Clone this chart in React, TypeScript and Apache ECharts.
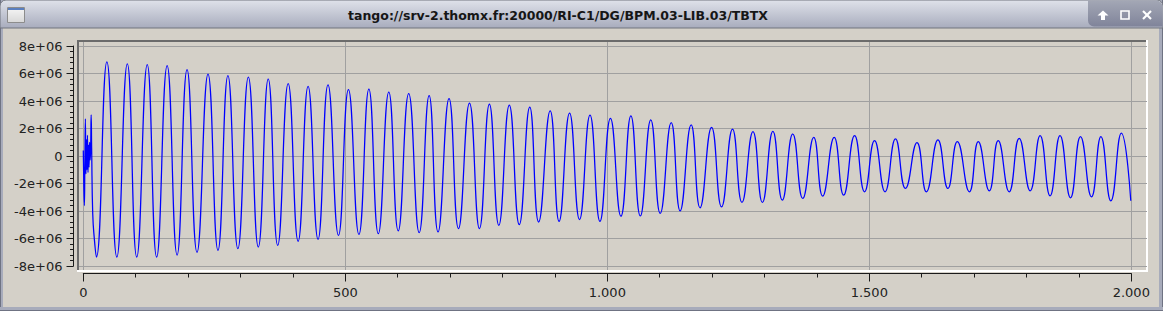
import React, { useEffect, useRef } from "react";
import * as echarts from "echarts";

const TITLE = "tango://srv-2.thomx.fr:20000/RI-C1/DG/BPM.03-LIB.03/TBTX";
const SCALE = 1e6;

// X axis (sample index)
const xMin = 0;
const xMax = 2000;
const xStep = 500;
// Y axis
const yMin = -8e6;
const yMax = 8e6;
const yStep = 2e6;

// initial transient (sample index, value in 1e6)
const transientSamples = [0, 1, 2, 3, 4, 5, 6, 7, 8, 9, 10, 11, 12, 13, 14, 15, 16, 18, 21];
const transientValues = [0.4, -2.2, -3.6, -0.5, 2.7, -1.3, 1.2, -1.0, 1.5, -1.2, 0.8, -0.8, 1.0, -0.3, 0.5, 3.0, 0.4, -4.2, -6.0];

// oscillation maxima
const peakSamples = [
  45, 84, 122, 160, 198, 238, 276, 315, 353, 391, 429, 467, 506, 545, 583, 621, 660,
  698, 737, 775, 813, 852, 891, 928, 967, 1006, 1045, 1083, 1122, 1160, 1199, 1239,
  1278, 1316, 1354, 1394, 1433, 1472, 1510, 1550, 1591, 1631, 1668, 1708, 1746, 1786,
  1826, 1864, 1903, 1942, 1981,
];
const peakValues = [
  6.84, 6.7, 6.64, 6.57, 6.28, 5.96, 5.84, 5.74, 5.6, 5.26, 5.06, 5.18, 4.82, 4.87, 4.65, 4.53, 4.4,
  4.18, 3.85, 3.77, 3.7, 3.55, 3.28, 3.12, 2.97, 2.73, 2.92, 2.63, 2.43, 2.26, 2.09, 1.95,
  1.77, 1.8, 1.6, 1.36, 1.36, 1.48, 1.12, 1.24, 0.97, 1.17, 1.04, 1.04, 1.12, 1.29,
  1.48, 1.48, 1.41, 1.41, 1.66,
];

// oscillation minima
const troughSamples = [
  25, 64, 102, 140, 179, 217, 257, 295, 334, 371, 410, 448, 487, 526, 563, 601, 641,
  677, 716, 756, 793, 832, 869, 908, 947, 986, 1026, 1063, 1101, 1139, 1177, 1218,
  1257, 1296, 1334, 1373, 1411, 1451, 1491, 1530, 1569, 1609, 1650, 1691, 1729, 1767,
  1807, 1845, 1884, 1924, 1961,
];
const troughValues = [
  -7.35, -7.35, -7.35, -7.35, -7.2, -7.0, -6.86, -6.74, -6.62, -6.5, -6.2, -6.06, -5.77, -5.7, -5.65, -5.45, -5.57,
  -5.52, -5.28, -5.28, -5.04, -4.99, -4.8, -4.75, -4.62, -4.75, -4.38, -4.36, -4.18, -3.99, -3.77, -3.7,
  -3.38, -3.38, -3.21, -3.09, -2.92, -2.85, -2.6, -2.6, -2.36, -2.6, -2.36, -2.6, -2.53, -2.6,
  -2.53, -2.9, -3.04, -2.97, -3.26,
];

// last sample
const endSamples = [1999];
const endValues = [-3.26];

const FONT = "DejaVu Sans";
const BG = "#d4d0c8";

function buildData(): [number, number][] {
  const pts: [number, number][] = [];
  const add = (xs: number[], ys: number[]) => xs.forEach((x, i) => pts.push([x, ys[i] * SCALE]));
  add(transientSamples, transientValues);
  add(peakSamples, peakValues);
  add(troughSamples, troughValues);
  add(endSamples, endValues);
  pts.sort((a, b) => a[0] - b[0]);
  return pts;
}

function xLabel(v: number): string {
  if (v >= 1000) {
    const t = Math.floor(v / 1000);
    const r = String(v % 1000).padStart(3, "0");
    return `${t}.${r}`;
  }
  return String(v);
}

function yLabel(v: number): string {
  if (v === 0) return "0";
  return `${v / 1e6}e+06`;
}

export default function App() {
  const ref = useRef<HTMLDivElement>(null);

  useEffect(() => {
    if (!ref.current) return;
    const chart = echarts.init(ref.current, undefined, { renderer: "svg" });
    const axisColor = "#1a1a1a";
    const gridColor = "#a0a0a0";

    const option: any = {
      animation: false,
      backgroundColor: BG,
      grid: [
        { left: 83.3, top: 42, width: 1048, height: 228 },
        { left: 79, top: 46, width: 1068, height: 220 },
        { left: 83.3, top: 46, width: 1048, height: 220 },
      ],
      xAxis: [
        {
          gridIndex: 0,
          type: "value",
          min: xMin,
          max: xMax,
          interval: xStep,
          position: "bottom",
          offset: 3.5,
          axisLine: { show: true, onZero: false, lineStyle: { color: axisColor, width: 1 } },
          axisTick: { show: true, inside: false, length: 8, lineStyle: { color: axisColor, width: 1 } },
          minorTick: { show: true, splitNumber: 5, length: 4, lineStyle: { color: axisColor, width: 1 } },
          axisLabel: { margin: 12, fontSize: 13, fontFamily: FONT, color: "#222", formatter: xLabel },
          splitLine: { show: true, lineStyle: { color: gridColor, width: 1 } },
        },
        { gridIndex: 1, type: "value", show: false, min: 0, max: 1, splitLine: { show: false } },
        { gridIndex: 2, type: "value", show: false, min: xMin, max: xMax, splitLine: { show: false } },
      ],
      yAxis: [
        { gridIndex: 0, type: "value", show: false, min: 0, max: 1, splitLine: { show: false } },
        {
          gridIndex: 1,
          type: "value",
          min: yMin,
          max: yMax,
          interval: yStep,
          position: "left",
          offset: 5.5,
          axisLine: { show: true, onZero: false, lineStyle: { color: axisColor, width: 1 } },
          axisTick: { show: true, inside: false, length: 7, lineStyle: { color: axisColor, width: 1 } },
          minorTick: { show: true, splitNumber: 5, length: 3.5, lineStyle: { color: axisColor, width: 1 } },
          axisLabel: { margin: 11, fontSize: 13, fontFamily: FONT, color: "#222", formatter: yLabel },
          splitLine: { show: true, lineStyle: { color: gridColor, width: 1 } },
        },
        { gridIndex: 2, type: "value", show: false, min: yMin, max: yMax, splitLine: { show: false } },
      ],
      series: [
        {
          type: "line",
          xAxisIndex: 2,
          yAxisIndex: 2,
          data: buildData(),
          symbol: "none",
          showSymbol: false,
          smooth: 0.5,
          clip: false,
          lineStyle: { color: "#0000ff", width: 1.25 },
        },
      ],
      graphic: [
        // window borders
        { type: "rect", shape: { x: 0, y: 0, width: 3, height: 311 }, style: { fill: "#a7abbb" } },
        { type: "rect", shape: { x: 0, y: 0, width: 1, height: 311 }, style: { fill: "#6f7383" } },
        { type: "rect", shape: { x: 1159, y: 0, width: 4, height: 311 }, style: { fill: "#a7abbb" } },
        { type: "rect", shape: { x: 1162, y: 0, width: 1, height: 311 }, style: { fill: "#6f7383" } },
        { type: "rect", shape: { x: 0, y: 307, width: 1163, height: 4 }, style: { fill: "#a7abbb" } },
        { type: "rect", shape: { x: 0, y: 310, width: 1163, height: 1 }, style: { fill: "#6f7383" } },
        // title bar
        {
          type: "rect",
          shape: { x: 0, y: 0, width: 1163, height: 28, r: [6, 6, 0, 0] },
          style: {
            fill: new echarts.graphic.LinearGradient(0, 0, 0, 1, [
              { offset: 0, color: "#dfe2ea" },
              { offset: 1, color: "#a8acbd" },
            ]),
            stroke: "#70747f",
            lineWidth: 1,
          },
        },
        // button area
        {
          type: "rect",
          shape: { x: 1088, y: 0.5, width: 74.5, height: 26, r: [0, 6, 0, 6] },
          style: {
            fill: new echarts.graphic.LinearGradient(0, 0, 0, 1, [
              { offset: 0, color: "#a3a7b5" },
              { offset: 1, color: "#80849a" },
            ]),
          },
        },
        // up arrow
        {
          type: "polygon",
          shape: {
            points: [
              [1103, 10.5], [1108.5, 15.5], [1105, 15.5], [1105, 20], [1101, 20], [1101, 15.5], [1097.5, 15.5],
            ],
          },
          style: { fill: "#ffffff" },
        },
        // maximize square
        {
          type: "rect",
          shape: { x: 1121, y: 11, width: 8, height: 8 },
          style: { fill: "none", stroke: "#ffffff", lineWidth: 1.6 },
        },
        // close X
        { type: "line", shape: { x1: 1143, y1: 11, x2: 1151, y2: 19 }, style: { stroke: "#ffffff", lineWidth: 2.2 } },
        { type: "line", shape: { x1: 1151, y1: 11, x2: 1143, y2: 19 }, style: { stroke: "#ffffff", lineWidth: 2.2 } },
        // window icon
        {
          type: "rect",
          shape: { x: 7.5, y: 7.5, width: 17, height: 15 },
          style: {
            fill: new echarts.graphic.LinearGradient(0, 0, 0, 1, [
              { offset: 0, color: "#f6f6f6" },
              { offset: 1, color: "#d8d8d8" },
            ]),
            stroke: "#8c8c8c",
            lineWidth: 1,
          },
        },
        { type: "rect", shape: { x: 8, y: 8, width: 16, height: 2 }, style: { fill: "#5a7fc0" } },
        // title
        {
          type: "text",
          x: 558,
          y: 15,
          style: {
            text: TITLE,
            fill: "#161616",
            font: `bold 12.5px "${FONT}"`,
            textAlign: "center",
            textVerticalAlign: "middle",
          },
        },
        // sunken plot frame
        { type: "rect", shape: { x: 77, y: 40, width: 1071, height: 2 }, style: { fill: "#6b6b6b" } },
        { type: "rect", shape: { x: 77, y: 40, width: 2, height: 232 }, style: { fill: "#6b6b6b" } },
        { type: "rect", shape: { x: 77, y: 270, width: 1071, height: 2 }, style: { fill: "#ffffff" } },
        { type: "rect", shape: { x: 1146, y: 40, width: 2, height: 232 }, style: { fill: "#ffffff" } },
      ],
    };

    chart.setOption(option);
    return () => chart.dispose();
  }, []);

  return (
    <div
      ref={ref}
      style={{ position: "absolute", left: 0, top: 0, width: 1163, height: 311 }}
    />
  );
}
